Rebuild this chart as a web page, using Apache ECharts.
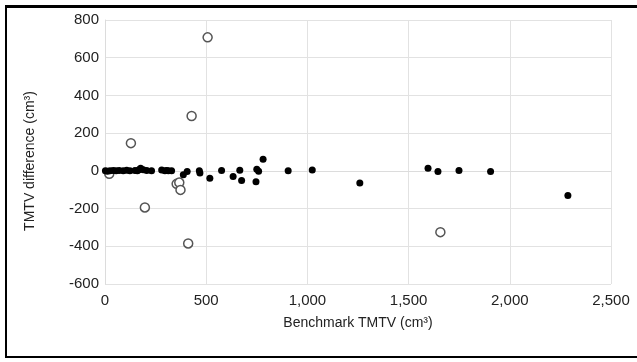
<!DOCTYPE html>
<html>
<head>
<meta charset="utf-8">
<script src="https://cdn.jsdelivr.net/npm/echarts@6/dist/echarts.min.js"></script>
<style>
  html, body { margin: 0; padding: 0; background: #fff; }
  #wrap { position: relative; width: 637px; height: 362px; }
  #chart { position: absolute; left: 0; top: 0; width: 637px; height: 362px; }
  #frame { position: absolute; left: 5px; top: 5px; width: 640px; height: 348px;
           border-top: 3px solid #000; border-left: 2px solid #000; border-bottom: 2px solid #000;
           pointer-events: none; }
</style>
</head>
<body>
<div id="wrap">
  <div id="chart"></div>
  <div id="frame"></div>
</div>
<script>
// agreeing cases (filled) : [benchmark TMTV, difference]
const filledPoints = [
  [2, 0], [12, -2], [25, 0], [41, 2], [55, 0], [70, 2], [90, 0], [107, 3],
  [123, 0], [148, 2], [160, 0], [168, 6], [176, 14], [189, 6], [206, 2], [230, 0],
  [280, 4], [296, 0], [305, 2], [313, 0], [329, 0],
  [387, -21], [406, -4], [466, 0], [469, -12], [518, -39], [576, 2], [633, -30],
  [666, 3], [675, -51], [746, -58], [750, 8], [759, -2], [781, 62], [905, 0],
  [1024, 5], [1259, -65], [1596, 14], [1645, -3], [1749, 2], [1905, -3], [2287, -131]
];
// outlier cases (open circles)
const openPoints = [
  [21, -16], [128, 147], [197, -194], [354, -69], [367, -62], [373, -101],
  [411, -385], [428, 291], [507, 708], [1657, -325]
];
const xTicks = { min: 0, max: 2500, step: 500 };
const yTicks = { min: -600, max: 800, step: 200 };

const chart = echarts.init(document.getElementById('chart'));
const font = 'Liberation Sans, Arial, sans-serif';
chart.setOption({
  animation: false,
  grid: { left: 105, right: 26, top: 20, bottom: 78 },
  xAxis: {
    type: 'value',
    min: xTicks.min, max: xTicks.max, interval: xTicks.step,
    name: 'Benchmark TMTV (cm³)',
    nameLocation: 'middle', nameGap: 32,
    nameTextStyle: { color: '#222', fontSize: 14, fontFamily: font },
    axisLine: { lineStyle: { color: '#dcdcdc' } },
    axisTick: { show: false },
    axisLabel: {
      color: '#222', fontSize: 15, fontFamily: font, margin: 9,
      formatter: (v) => v.toLocaleString('en-US')
    },
    splitLine: { lineStyle: { color: '#e2e2e2' } }
  },
  yAxis: {
    type: 'value',
    min: yTicks.min, max: yTicks.max, interval: yTicks.step,
    name: 'TMTV difference (cm³)',
    nameLocation: 'middle', nameGap: 68, nameRotate: 90,
    nameTextStyle: { color: '#222', fontSize: 14, fontFamily: font, padding: [0, 18, 0, 0] },
    axisLine: { show: true, lineStyle: { color: '#dcdcdc' } },
    axisTick: { show: false },
    axisLabel: { color: '#222', fontSize: 15, fontFamily: font, margin: 6 },
    splitLine: { lineStyle: { color: '#e2e2e2' } }
  },
  series: [
    {
      type: 'scatter',
      data: filledPoints,
      symbol: 'circle',
      symbolSize: 7,
      itemStyle: { color: '#000', opacity: 1 },
      z: 3
    },
    {
      type: 'scatter',
      data: openPoints,
      symbol: 'circle',
      symbolSize: 9,
      itemStyle: { color: '#fff', borderColor: '#555', borderWidth: 1.5, opacity: 1 },
      z: 2
    }
  ]
});
</script>
</body>
</html>
